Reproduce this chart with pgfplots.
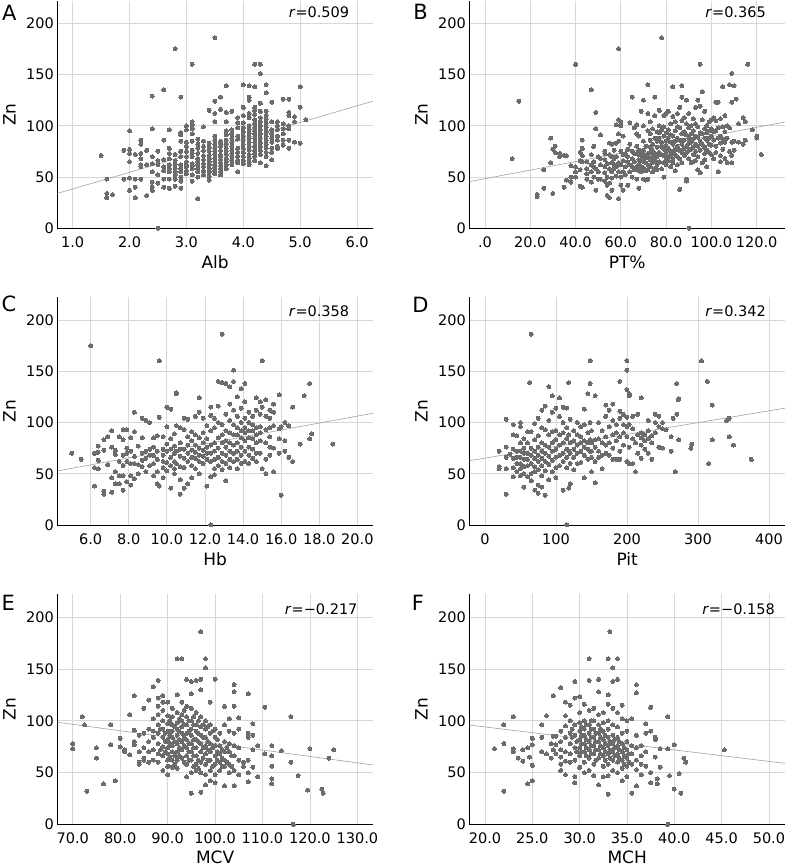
\documentclass[border=0pt]{standalone}
\usepackage{fontspec}
\setmainfont{DejaVu Sans}
\usepackage{pgfplots}
\pgfplotsset{compat=1.18}
\definecolor{dotc}{RGB}{108,108,108}
\definecolor{gridc}{RGB}{215,215,215}
\definecolor{fitc}{RGB}{160,160,160}
\pgfplotsset{
 panel/.style={
  scale only axis, width=315.7pt, height=227.6pt,
  ymin=0, ymax=222, ytick={0,50,100,150,200},
  axis x line*=bottom, axis y line*=left, axis line style={-, black, line width=0.8pt},
  major tick length=0pt,
  grid=major, major grid style={gridc, line width=0.8pt},
  tick label style={font=\fontsize{14.5}{16}\selectfont},
  /pgf/number format/assume math mode=true,
  xticklabel style={yshift=-5pt},
  label style={font=\fontsize{17}{19}\selectfont},
  xlabel style={at={(axis description cs:0.5,-0.149)}, anchor=center},
  ylabel style={at={(axis description cs:-0.152,0.5)}, anchor=center},
  ylabel={Zn},
  clip=false,
  anchor=south west,
 },
 dots/.style={only marks, mark=*, color=dotc, mark size=2pt, mark options={draw=dotc, fill=dotc, line width=0pt}},
 fitl/.style={no marks, fitc, line width=0.6pt},
}
\begin{document}
\begin{tikzpicture}[x=1pt,y=1pt]
\useasboundingbox (0,0) rectangle (787,866);
% ---------------- A
\begin{axis}[panel, at={(57.3pt,637.7pt)}, xmin=0.73, xmax=6.28,
  xtick={1,2,3,4,5,6}, xticklabels={1.0,2.0,3.0,4.0,5.0,6.0}, xlabel={Alb}]
\addplot[dots] coordinates {
(1.5,71)(1.6,48)(1.6,34)(1.6,30)(1.7,33)(1.9,76)(1.9,48)
(2.0,95)(2.0,77)(2.0,73)(2.0,65)(2.0,49)(2.0,37)
(2.1,72)(2.1,48)(2.1,40)(2.1,30)
(2.2,86)(2.2,82)(2.2,73)(2.2,68)(2.2,62)(2.2,60)(2.2,48)
(2.3,76)(2.3,62)(2.3,32)
(2.4,129)(2.4,97)(2.4,70)(2.4,63)(2.4,55)(2.4,45)(2.4,40)(2.4,37)
(2.5,75)(2.5,66)(2.5,62)(2.5,52)(2.5,44)(2.5,0)
(2.6,135)(2.6,86)(2.6,67)(2.6,60)(2.6,56)(2.6,48)(2.6,40)
(2.7,96)(2.7,78)(2.7,73)(2.7,68)(2.7,62)(2.7,58)(2.7,55)(2.7,48)(2.7,39)
(2.8,175)(2.8,72)(2.8,66)(2.8,62)(2.8,58)(2.8,55)(2.8,52)(2.8,48)(2.8,41)
(2.9,128)(2.9,93)(2.9,91)(2.9,85)(2.9,75)(2.9,70)(2.9,62)(2.9,58)(2.9,55)(2.9,50)(2.9,46)(2.9,39)
(3.0,100)(3.0,96)(3.0,84)(3.0,80)(3.0,75)(3.0,70)(3.0,65)(3.0,62)(3.0,60)(3.0,56)(3.0,53)
(3.1,160)(3.1,104)(3.1,101)(3.1,97)(3.1,92)(3.1,85)(3.1,76)(3.1,73)(3.1,70)(3.1,63)(3.1,61)(3.1,58)(3.1,52)(3.1,46)
(3.2,87)(3.2,82)(3.2,78)(3.2,73)(3.2,68)(3.2,65)(3.2,62)(3.2,58)(3.2,55)(3.2,50)(3.2,29)
(3.3,99)(3.3,85)(3.3,80)(3.3,76)(3.3,71)(3.3,67)(3.3,63)(3.3,60)(3.3,56)(3.3,52)
(3.4,115)(3.4,83)(3.4,79)(3.4,75)(3.4,71)(3.4,68)(3.4,65)(3.4,62)(3.4,58)(3.4,55)(3.4,51)(3.4,47)
(3.5,186)(3.5,124)(3.5,112)(3.5,104)(3.5,90)(3.5,86)(3.5,82)(3.5,78)(3.5,75)(3.5,72)(3.5,68)(3.5,65)(3.5,62)(3.5,59)(3.5,56)(3.5,53)
(3.6,128)(3.6,116)(3.6,85)(3.6,83)(3.6,80)(3.6,76)(3.6,72)(3.6,70)(3.6,67)(3.6,64)(3.6,61)(3.6,58)(3.6,55)(3.6,52)
(3.7,139)(3.7,113)(3.7,104)(3.7,95)(3.7,91)(3.7,86)(3.7,82)(3.7,78)(3.7,75)(3.7,72)(3.7,68)(3.7,65)(3.7,62)(3.7,58)
(3.8,114)(3.8,96)(3.8,92)(3.8,88)(3.8,84)(3.8,80)(3.8,76)(3.8,73)(3.8,70)(3.8,66)(3.8,62)
(3.9,108)(3.9,103)(3.9,98)(3.9,90)(3.9,87)(3.9,78)(3.9,74)(3.9,70)(3.9,66)(3.9,64)(3.9,55)
(4.0,140)(4.0,118)(4.0,110)(4.0,103)(4.0,98)(4.0,94)(4.0,90)(4.0,86)(4.0,82)(4.0,78)(4.0,74)(4.0,70)(4.0,66)(4.0,63)
(4.1,139)(4.1,128)(4.1,125)(4.1,112)(4.1,108)(4.1,100)(4.1,96)(4.1,92)(4.1,88)(4.1,84)(4.1,80)(4.1,76)(4.1,72)(4.1,68)(4.1,64)(4.1,62)
(4.2,160)(4.2,138)(4.2,118)(4.2,115)(4.2,111)(4.2,106)(4.2,102)(4.2,98)(4.2,95)(4.2,92)(4.2,88)(4.2,84)(4.2,80)(4.2,76)(4.2,73)(4.2,70)(4.2,66)
(4.3,160)(4.3,151)(4.3,122)(4.3,114)(4.3,108)(4.3,104)(4.3,100)(4.3,96)(4.3,92)(4.3,88)(4.3,84)(4.3,80)(4.3,76)(4.3,72)(4.3,64)
(4.4,140)(4.4,132)(4.4,114)(4.4,110)(4.4,106)(4.4,102)(4.4,98)(4.4,94)(4.4,90)(4.4,86)(4.4,82)(4.4,78)(4.4,74)(4.4,70)(4.4,61)
(4.5,123)(4.5,104)(4.5,96)(4.5,92)(4.5,88)(4.5,84)(4.5,78)(4.5,74)(4.5,67)
(4.6,104)(4.6,100)(4.6,96)(4.6,90)(4.6,86)(4.6,80)(4.6,78)
(4.7,126)(4.7,102)(4.7,97)(4.7,92)(4.7,86)(4.7,81)
(4.8,126)(4.8,113)(4.8,110)(4.8,100)(4.8,97)(4.8,86)(4.8,78)
(4.9,109)(4.9,104)(4.9,84)(5.0,138)(5.0,118)(5.0,83)(5.1,106)
};
\addplot[fitl] coordinates {(0.73,34) (6.28,124)};
\end{axis}
% ---------------- B
\begin{axis}[panel, at={(469.3pt,637.7pt)}, xmin=-6.9, xmax=132.5,
  xtick={0,20,40,60,80,100,120}, xticklabels={.0,20.0,40.0,60.0,80.0,100.0,120.0}, xlabel={PT\%}]
\addplot[dots] coordinates {
(12,68)(15,124)(23,33)(23,31)(26,39)(26,57)(29,64)(29,88)(30,77)(30,34)(31,80)(31,74)(33,73)(33,70)
(35,71)(35,40)(36,47)(36,71)(38,61)(38,50)(38,45)(40,160)(40,60)(40,55)(40,50)
(42,74)(42,66)(42,41)(42,57)(43,86)(43,78)(43,71)(43,65)(43,40)(45,65)(45,58)(45,53)(45,48)
(47,135)(47,72)(47,62)(47,55)(47,45)(48,80)(48,65)(48,60)(48,50)(49,113)(49,97)(49,58)(49,37)
(50,70)(50,55)(50,48)(51,91)(51,68)(51,62)(51,48)(53,75)(53,73)(53,67)(53,60)(53,54)(53,46)
(54,63)(54,50)(54,42)(54,32)(55,83)(55,72)(55,58)(55,44)(55,30)(56,82)(56,70)(56,64)(56,55)(56,49)(56,37)
(57,76)(57,68)(57,62)(57,58)(58,101)(58,83)(58,70)(58,60)(58,51)(59,175)(59,106)(59,92)(59,85)(59,64)(59,55)(59,29)
(60,104)(60,100)(60,75)(60,62)(60,50)(60,42)(61,90)(61,72)(61,66)(61,55)(61,37)(62,73)(62,60)(62,52)
(63,77)(63,70)(63,65)(63,42)(64,103)(64,82)(64,62)(64,55)(65,128)(65,75)(65,68)(65,60)(65,50)
(66,98)(66,73)(66,65)(66,57)(67,101)(67,92)(67,80)(67,73)(67,60)(67,48)
(68,90)(68,76)(68,72)(68,67)(68,62)(68,56)(68,39)(69,114)(69,75)(69,71)(69,66)(69,60)(69,55)
(70,125)(70,100)(70,85)(70,76)(70,72)(70,68)(70,65)(70,59)(70,48)(71,80)(71,70)(71,64)(71,56)(71,47)
(72,140)(72,112)(72,95)(72,73)(72,69)(72,62)(72,57)(72,48)(73,104)(73,92)(73,86)(73,79)(73,74)(73,67)(73,60)
(74,97)(74,82)(74,76)(74,70)(74,64)(74,55)(75,128)(75,110)(75,88)(75,73)(75,66)(75,58)
(76,94)(76,85)(76,79)(76,70)(76,62)(76,57)(77,115)(77,100)(77,93)(77,88)(77,74)(77,65)
(78,186)(78,96)(78,84)(78,80)(78,72)(78,58)(79,110)(79,99)(79,90)(79,77)(79,71)(79,64)(79,50)
(80,112)(80,93)(80,85)(80,80)(80,74)(80,68)(80,62)(81,114)(81,96)(81,88)(81,78)(81,70)(81,66)
(82,102)(82,91)(82,84)(82,75)(82,71)(82,60)(83,138)(83,109)(83,90)(83,82)(83,73)(83,68)(83,64)
(84,104)(84,95)(84,85)(84,77)(84,72)(84,56)(85,112)(85,99)(85,88)(85,80)(85,70)(85,62)
(86,118)(86,98)(86,86)(86,76)(86,68)(86,38)(87,139)(87,128)(87,105)(87,92)(87,82)(87,74)(87,64)
(88,108)(88,94)(88,86)(88,78)(88,71)(89,125)(89,102)(89,91)(89,80)(89,74)(89,48)(89,46)
(90,112)(90,98)(90,88)(90,83)(90,76)(90,68)(90,0)(91,100)(91,92)(91,84)(91,77)(91,64)
(92,107)(92,95)(92,87)(92,79)(92,72)(92,65)(93,118)(93,102)(93,90)(93,82)(93,75)(93,66)
(94,125)(94,99)(94,89)(94,80)(94,70)(94,57)(95,160)(95,119)(95,93)(95,85)(95,76)(95,54)
(96,133)(96,106)(96,92)(96,82)(96,64)(97,114)(97,97)(97,88)(97,79)(97,73)(97,67)
(98,100)(98,93)(98,86)(98,76)(98,60)(99,104)(99,95)(99,88)(99,82)(99,74)
(100,106)(100,97)(100,90)(100,81)(100,72)(101,108)(101,94)(101,86)(101,68)
(102,123)(102,105)(102,95)(102,80)(102,74)(103,123)(103,98)(103,88)(103,55)
(104,107)(104,90)(104,83)(104,71)(104,65)(105,138)(105,99)(105,87)(105,77)
(106,110)(106,94)(106,84)(106,68)(107,100)(107,88)(107,64)(108,140)(108,98)(108,75)
(109,151)(109,123)(109,84)(109,71)(109,64)(110,139)(110,85)(110,76)(111,126)(112,102)(112,84)
(114,108)(114,82)(115,104)(115,86)(116,160)(118,96)(120,90)(120,88)(122,72)
};
\addplot[fitl] coordinates {(-6.9,45.5) (132.5,103.7)};
\end{axis}
% ---------------- C
\begin{axis}[panel, at={(57.3pt,341pt)}, xmin=4.25, xmax=20.82,
  xtick={6,8,10,12,14,16,18,20}, xticklabels={6.0,8.0,10.0,12.0,14.0,16.0,18.0,20.0}, xlabel={Hb}]
\addplot[dots] coordinates {
(5.0,70)(5.5,64)(6.0,175)(6.2,70)(6.2,56)(6.2,38)(6.4,77)(6.4,71)(6.4,63)(6.4,55)
(6.7,83)(6.7,73)(6.7,33)(6.7,30)(6.9,86)(6.9,59)(7.1,92)(7.1,76)(7.1,46)(7.1,32)
(7.3,73)(7.3,69)(7.3,52)(7.3,40)(7.5,86)(7.5,62)(7.5,48)(7.5,40)
(7.7,93)(7.7,83)(7.7,68)(7.7,58)(7.7,48)(7.7,34)(7.9,93)(7.9,75)(7.9,70)(7.9,62)(7.9,42)
(8.1,85)(8.1,72)(8.1,60)(8.1,48)(8.1,39)(8.3,110)(8.3,91)(8.3,67)(8.3,60)(8.3,45)
(8.5,77)(8.5,59)(8.5,50)(8.7,104)(8.7,85)(8.7,70)(8.7,63)(8.7,57)(8.9,102)(8.9,72)(8.9,65)(8.9,52)
(9.1,100)(9.1,74)(9.1,68)(9.1,58)(9.3,85)(9.3,76)(9.3,68)(9.3,60)(9.3,48)
(9.5,87)(9.5,72)(9.5,64)(9.5,52)(9.5,40)(9.6,160)(9.6,105)(9.6,38)
(9.8,86)(9.8,74)(9.8,68)(9.8,62)(9.8,56)(9.8,46)(10.0,115)(10.0,96)(10.0,79)(10.0,72)(10.0,61)(10.0,53)
(10.2,113)(10.2,84)(10.2,74)(10.2,66)(10.2,58)(10.2,36)(10.4,89)(10.4,77)(10.4,70)(10.4,62)(10.4,55)(10.4,50)
(10.5,129)(10.5,128)(10.5,97)(10.5,72)(10.5,60)(10.7,95)(10.7,80)(10.7,74)(10.7,67)(10.7,57)(10.7,44)(10.7,30)
(10.9,104)(10.9,93)(10.9,74)(10.9,65)(10.9,56)(10.9,36)(11.1,103)(11.1,86)(11.1,78)(11.1,70)(11.1,62)(11.1,40)
(11.3,91)(11.3,82)(11.3,73)(11.3,66)(11.3,58)(11.3,46)(11.5,106)(11.5,88)(11.5,78)(11.5,71)(11.5,65)(11.5,55)
(11.7,124)(11.7,110)(11.7,85)(11.7,75)(11.7,68)(11.7,62)(11.7,50)(11.9,104)(11.9,90)(11.9,80)(11.9,73)(11.9,67)(11.9,60)
(12.1,97)(12.1,84)(12.1,76)(12.1,70)(12.1,64)(12.1,38)
(12.3,115)(12.3,107)(12.3,92)(12.3,78)(12.3,70)(12.3,62)(12.3,47)(12.3,0)
(12.5,104)(12.5,95)(12.5,80)(12.5,72)(12.5,64)(12.5,55)(12.5,49)
(12.7,140)(12.7,116)(12.7,100)(12.7,85)(12.7,75)(12.7,66)(12.7,58)
(12.9,186)(12.9,139)(12.9,98)(12.9,88)(12.9,80)(12.9,70)(12.9,62)(12.9,54)
(13.1,138)(13.1,108)(13.1,92)(13.1,82)(13.1,76)(13.1,68)(13.1,60)(13.1,43)
(13.3,135)(13.3,118)(13.3,102)(13.3,90)(13.3,80)(13.3,72)(13.3,64)(13.3,56)
(13.5,151)(13.5,140)(13.5,112)(13.5,98)(13.5,88)(13.5,78)(13.5,70)(13.5,62)
(13.7,125)(13.7,106)(13.7,95)(13.7,88)(13.7,80)(13.7,72)(13.7,64)(13.7,55)
(13.9,133)(13.9,114)(13.9,100)(13.9,92)(13.9,85)(13.9,76)(13.9,68)(13.9,60)
(14.1,138)(14.1,120)(14.1,104)(14.1,95)(14.1,90)(14.1,82)(14.1,72)(14.1,62)
(14.3,110)(14.3,100)(14.3,92)(14.3,85)(14.3,76)(14.3,68)(14.3,60)
(14.5,106)(14.5,98)(14.5,92)(14.5,84)(14.5,74)(14.5,65)
(14.7,124)(14.7,112)(14.7,95)(14.7,88)(14.7,80)(14.7,70)(14.7,62)
(14.9,120)(14.9,108)(14.9,96)(14.9,90)(14.9,82)(14.9,70)(15.0,160)(15.0,115)(15.0,55)
(15.2,122)(15.2,106)(15.2,93)(15.2,80)(15.2,64)(15.2,50)(15.4,112)(15.4,104)(15.4,95)(15.4,86)(15.4,76)(15.4,68)
(15.6,118)(15.6,110)(15.6,97)(15.6,52)(15.6,75)(15.9,127)(15.9,94)(15.9,84)(15.9,70)(16.0,29)(16.0,96)
(16.2,100)(16.2,82)(16.2,72)(16.4,97)(16.4,66)(16.6,115)(16.6,62)(17.0,79)(17.2,126)(17.5,138)(17.5,84)(17.6,89)(18.7,79)
};
\addplot[fitl] coordinates {(4.25,52.7) (20.82,109)};
\end{axis}
% ---------------- D
\begin{axis}[panel, at={(469.3pt,341pt)}, xmin=-22, xmax=422.5,
  xtick={0,100,200,300,400}, xlabel={Pit}]
\addplot[dots] coordinates {
(20,72)(20,57)(20,55)(30,103)(30,76)(30,66)(30,55)(30,30)(35,69)
(40,98)(40,88)(40,74)(40,65)(40,56)(40,47)(45,87)(45,72)(45,66)(45,60)(45,52)
(50,100)(50,96)(50,80)(50,72)(50,66)(50,60)(50,55)(50,48)(55,84)(55,75)(55,70)(55,64)(55,57)(55,50)(55,37)
(60,91)(60,80)(60,70)(60,64)(60,58)(60,47)(63,139)(65,186)(65,91)(65,75)(65,68)(65,60)(65,50)(65,43)
(70,99)(70,83)(70,72)(70,65)(70,57)(70,52)(70,34)(75,104)(75,87)(75,76)(75,68)(75,62)(75,54)(75,39)(75,31)
(80,112)(80,95)(80,80)(80,72)(80,65)(80,58)(80,48)(80,37)(85,116)(85,93)(85,78)(85,70)(85,62)(85,53)(85,29)
(90,135)(90,102)(90,88)(90,76)(90,67)(90,59)(90,44)(95,126)(95,110)(95,91)(95,80)(95,72)(95,63)(95,52)
(100,114)(100,92)(100,83)(100,74)(100,66)(100,56)(100,46)(105,124)(105,106)(105,88)(105,78)(105,68)(105,58)
(110,115)(110,100)(110,90)(110,80)(110,70)(110,62)(110,34)(115,114)(115,95)(115,84)(115,74)(115,66)(115,56)(115,0)
(118,139)(118,88)(118,72)(118,36)(120,103)(120,80)(120,70)(120,60)(120,40)
(125,92)(125,82)(125,74)(125,66)(125,54)(130,100)(130,88)(130,78)(130,70)(130,60)
(135,96)(135,86)(135,80)(135,72)(135,61)(140,113)(140,98)(140,82)(140,76)(140,68)(140,46)
(145,128)(145,90)(145,80)(145,74)(145,64)(148,160)(148,138)(148,100)(148,83)(148,72)
(150,92)(150,80)(150,72)(150,66)(150,52)(155,126)(155,83)(155,76)(155,62)(155,41)
(160,100)(160,84)(160,72)(160,66)(165,92)(165,80)(165,68)(165,55)
(170,117)(170,106)(170,86)(170,78)(170,70)(175,112)(175,96)(175,80)(175,68)
(180,118)(180,102)(180,88)(180,75)(180,64)(185,98)(185,90)(185,82)(185,64)
(190,140)(190,111)(190,104)(190,86)(190,72)(190,64)(195,108)(195,98)(195,90)(195,78)
(200,160)(200,151)(200,132)(200,105)(200,96)(200,86)(200,62)(203,128)(203,126)(203,98)(203,76)(203,60)
(208,106)(208,94)(208,84)(208,60)(212,52)(212,80)(215,108)(215,88)(215,70)
(220,124)(220,90)(220,85)(220,78)(220,65)(225,88)(225,82)(225,74)(230,102)(230,92)(230,84)(230,70)
(235,87)(235,80)(235,64)(240,108)(240,100)(240,90)(245,106)(245,96)(245,76)(250,100)(250,94)(250,75)
(255,93)(262,86)(262,72)(265,104)(268,52)(270,138)(270,108)(272,122)(273,123)(273,83)
(290,75)(291,79)(305,160)(313,140)(315,60)(320,117)(320,83)(340,102)(344,104)(344,86)(350,78)(375,64)
};
\addplot[fitl] coordinates {(-22,62.7) (422.5,114)};
\end{axis}
% ---------------- E
\begin{axis}[panel, height=229.8pt, at={(57.3pt,41.7pt)}, xmin=66.75, xmax=133.3,
  xtick={70,80,90,100,110,120,130}, xticklabels={70.0,80.0,90.0,100.0,110.0,120.0,130.0}, xlabel={MCV},
  xlabel style={at={(axis description cs:0.5,-0.143)}}]
\addplot[dots] coordinates {
(70,78)(70,73)(72,104)(72.5,96)(73,32)(75,64)(75,74)(76.5,39)(78,96)(78,77)(79,42)(80,75)(80,83)
(81,72)(81,70)(82,106)(82,67)(83,124)(83,91)(83,80)(83,77)(84,86)(84,70)(84,60)(84,58)
(85,112)(85,88)(85,74)(85,64)(85,62)(86,120)(86,92)(86,80)(86,70)(86,60)
(87,133)(87,102)(87,90)(87,84)(87,72)(87,62)
(88,139)(88,122)(88,114)(88,106)(88,96)(88,88)(88,78)(88,68)(88,60)
(89,124)(89,118)(89,110)(89,100)(89,92)(89,84)(89,75)(89,66)(89,52)
(90,118)(90,105)(90,97)(90,90)(90,82)(90,74)(90,68)(90,62)(90,56)(90,48)
(91,112)(91,104)(91,96)(91,90)(91,84)(91,76)(91,70)(91,62)(91,55)
(92,160)(92,125)(92,108)(92,98)(92,92)(92,86)(92,78)(92,70)(92,62)(92,54)
(93,160)(93,118)(93,106)(93,100)(93,94)(93,88)(93,80)(93,72)(93,64)
(94,140)(94,114)(94,104)(94,96)(94,88)(94,82)(94,74)(94,66)(94,58)(94,46)
(95,138)(95,126)(95,112)(95,100)(95,92)(95,86)(95,78)(95,70)(95,62)(95,50)(95,30)
(96,139)(96,108)(96,96)(96,90)(96,82)(96,74)(96,66)(96,58)(96,52)
(97,186)(97,140)(97,130)(97,104)(97,94)(97,86)(97,78)(97,70)(97,60)(97,50)(97,31)
(98,160)(98,151)(98,100)(98,92)(98,84)(98,76)(98,68)(98,58)(98,48)(98,38)
(99,118)(99,96)(99,88)(99,78)(99,70)(99,62)(99,52)(99,42)
(100,140)(100,92)(100,84)(100,76)(100,66)(100,58)(100,48)(100,40)
(101,88)(101,76)(101,68)(101,60)(101,52)(102,114)(102,96)(102,80)(102,70)(102,62)(102,56)(102,37)
(103,102)(103,90)(103,78)(103,70)(103,58)(103,50)(104,135)(104,128)(104,114)(104,88)(104,76)(104,66)(104,52)(104,37)
(105,103)(105,92)(105,74)(105,62)(105,48)(106,60)(106,56)(107,126)(107,88)(107,84)(107,62)(107,50)(107,41)
(108,97)(108,86)(108,72)(108,55)(109,46)(109,76)(110.5,113)(110.5,68)
(112,76)(112,66)(112,56)(112,44)(112,39)(114,71)(116,104)(116,60)(116.5,0)(117.5,47)(119.5,33)(120,73)
(122.5,34)(122.8,30)(124,64)(125,72)
(88.5,92)(88.5,72)(89.5,88)(89.5,80)(89.5,70)(90.5,100)(90.5,86)(90.5,78)(90.5,65)(91.5,94)(91.5,80)(91.5,66)(91.5,58)
(92.5,102)(92.5,90)(92.5,82)(92.5,74)(92.5,66)(93.5,110)(93.5,96)(93.5,84)(93.5,76)(93.5,60)
(94.5,100)(94.5,90)(94.5,78)(94.5,70)(94.5,62)(95.5,104)(95.5,96)(95.5,82)(95.5,74)(95.5,66)(95.5,56)
(96.5,100)(96.5,88)(96.5,80)(96.5,62)(96.5,54)(97.5,96)(97.5,84)(97.5,74)(97.5,64)
(98.5,94)(98.5,80)(98.5,72)(98.5,62)(99.5,90)(99.5,74)(99.5,56)(100.5,82)(100.5,70)(100.5,62)
(101.5,72)(101.5,64)(101.5,56)(102.5,74)(102.5,60)(103.5,66)(103.5,56)
};
\addplot[fitl] coordinates {(66.75,98.6) (133.3,57.3)};
\end{axis}
% ---------------- F
\begin{axis}[panel, height=229.8pt, at={(469.3pt,41.7pt)}, xmin=18.34, xmax=51.7,
  xtick={20,25,30,35,40,45,50}, xticklabels={20.0,25.0,30.0,35.0,40.0,45.0,50.0}, xlabel={MCH},
  xlabel style={at={(axis description cs:0.5,-0.143)}}]
\addplot[dots] coordinates {
(21,73)(22,96)(22,78)(22,32)(23,104)(23,73)(23,70)(23.5,64)(24,61)(24,72)(24.5,74)(24.5,39)(24.7,65)
(25,83)(25,77)(25,57)(25,42)(26,96)(26,84)(26,70)(26.5,105)(26.5,68)(27,78)(27,64)
(27.2,124)(27.2,85)(27.2,72)(27.5,85)(27.5,77)(27.5,68)
(28,132)(28,90)(28,80)(28,72)(28,65)(28,58)(28,52)(28.5,118)(28.5,105)(28.5,95)(28.5,84)(28.5,70)(28.5,61)(28.5,48)
(29,115)(29,100)(29,88)(29,78)(29,68)(29,60)(29.5,138)(29.5,122)(29.5,96)(29.5,86)(29.5,74)(29.5,62)(29.5,46)(29.5,40)
(30,123)(30,108)(30,98)(30,90)(30,82)(30,74)(30,66)(30,55)(30.5,116)(30.5,100)(30.5,92)(30.5,86)(30.5,78)(30.5,70)(30.5,60)(30.5,50)
(31,160)(31,139)(31,110)(31,96)(31,88)(31,80)(31,72)(31,64)(31,52)(31.5,112)(31.5,100)(31.5,92)(31.5,84)(31.5,76)(31.5,68)(31.5,58)(31.5,47)
(32,140)(32,128)(32,106)(32,96)(32,88)(32,80)(32,72)(32,64)(32,38)(32.5,108)(32.5,98)(32.5,90)(32.5,82)(32.5,74)(32.5,66)(32.5,56)(32.5,46)
(33,160)(33,125)(33,116)(33,100)(33,92)(33,84)(33,76)(33,68)(33,58)(33,47)(33,29)(33.2,186)
(33.5,151)(33.5,138)(33.5,112)(33.5,96)(33.5,86)(33.5,78)(33.5,70)(33.5,62)(33.5,52)
(34,160)(34,140)(34,108)(34,94)(34,84)(34,76)(34,68)(34,60)(34,50)
(34.5,115)(34.5,102)(34.5,88)(34.5,78)(34.5,70)(34.5,62)(34.5,54)(34.5,42)
(35,100)(35,90)(35,80)(35,72)(35,64)(35,56)(35,46)(35.5,102)(35.5,76)(35.5,68)(35.5,58)(35.5,30)
(36,135)(36,127)(36,86)(36,74)(36,62)(36,53)(36,37)(36.5,76)(36.5,66)(36.5,58)(36.5,48)
(37,97)(37,88)(37,70)(37,56)(37.5,113)(37.5,90)(37.5,50)(37.5,40)(38,84)(38,82)(38,65)
(38.5,73)(38.5,55)(38.2,44)(38.2,39)(39.3,104)(39.3,73)(39.3,0)(39.5,47)(40,77)(40,34)(40.5,49)(40.7,30)(41,64)(41.2,60)(45.3,72)
(29.2,92)(29.2,84)(29.7,80)(29.7,70)(30.2,94)(30.2,86)(30.2,78)(30.2,70)(30.7,96)(30.7,82)(30.7,74)(30.7,66)
(31.2,100)(31.2,92)(31.2,84)(31.2,76)(31.2,68)(31.7,88)(31.7,80)(31.7,72)(31.7,62)(32.2,92)(32.2,84)(32.2,76)(32.2,68)
(32.7,86)(32.7,78)(32.7,70)(32.7,62)(33.2,80)(33.2,72)(33.2,64)(33.7,82)(33.7,74)(33.7,66)
(34.2,80)(34.2,72)(34.2,64)(34.7,74)(34.7,66)(34.7,58)(35.2,68)(35.2,60)
};
\addplot[fitl] coordinates {(18.34,95.9) (51.7,58.9)};
\end{axis}
% panel letters and r values
\tikzset{lett/.style={font=\fontsize{21}{24}\selectfont}, rval/.style={anchor=east, font=\fontsize{14.5}{16}\selectfont}}
\node[lett] at (9.2,853.5) {A};
\node[lett] at (420.5,854.3) {B};
\node[lett] at (9,561.8) {C};
\node[lett] at (420.5,561.5) {D};
\node[lett] at (8.3,263.5) {E};
\node[lett] at (418,263.5) {F};
\node[rval] at (352.7,853.7) {\textit{r}=0.509};
\node[rval] at (769.3,853.7) {\textit{r}=0.365};
\node[rval] at (352.7,554.3) {\textit{r}=0.358};
\node[rval] at (769.3,554.3) {\textit{r}=0.342};
\node[rval] at (361,256.7) {\textit{r}=−0.217};
\node[rval] at (778.3,256.7) {\textit{r}=−0.158};
\end{tikzpicture}
\end{document}
